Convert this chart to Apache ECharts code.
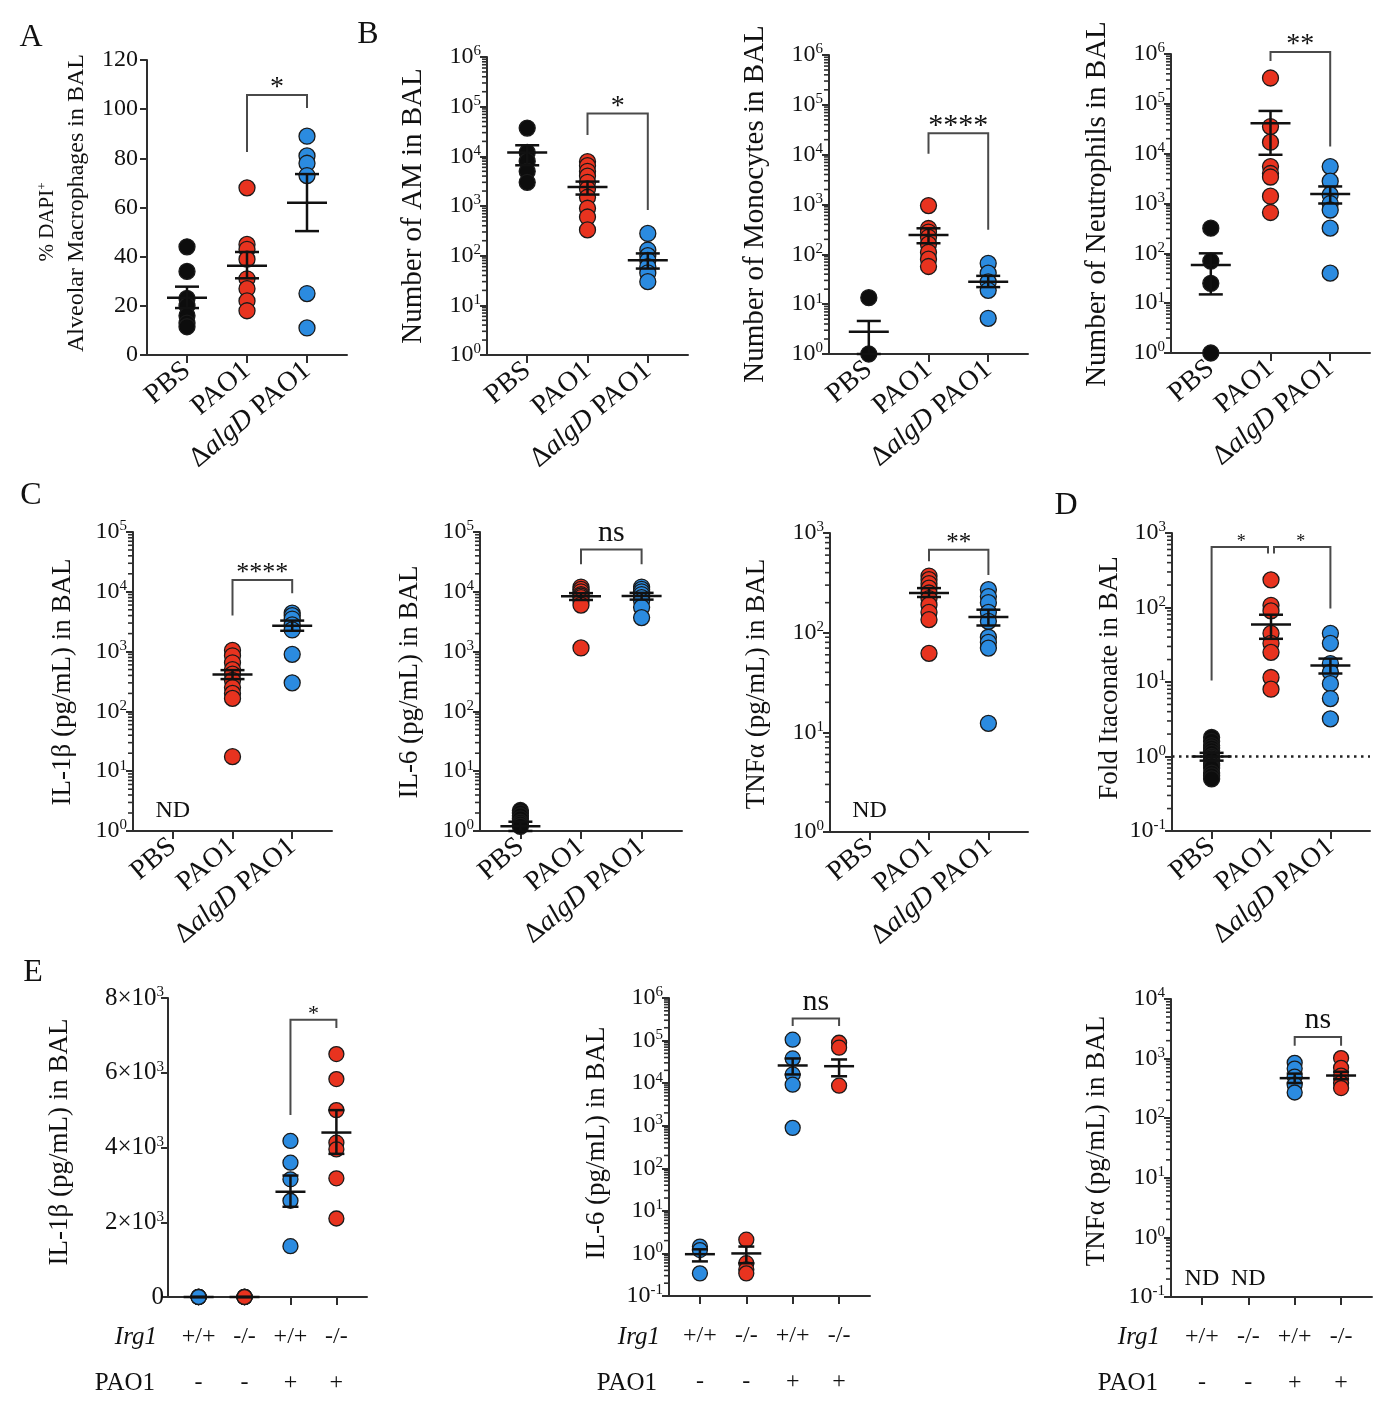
<!DOCTYPE html>
<html><head><meta charset="utf-8">
<script src="https://cdn.jsdelivr.net/npm/echarts@6.0.0/dist/echarts.min.js"></script>
<style>html,body{margin:0;padding:0;background:#fff}#c{width:1386px;height:1402px}</style>
</head><body><div id="c"></div>
<script>
// ---------------- DATA ----------------
const CAT_BAL = ['PBS', 'PAO1', 'ΔalgD PAO1'];
const E_IRG1 = ['+/+', '-/-', '+/+', '-/-'];
const E_PAO1 = ['-', '-', '+', '+'];

const A_PBS = [44, 34, 23, 20, 16, 13, 11.5];
const A_PAO1 = [68, 45, 43, 39, 31, 27, 22, 18];
const A_ALGD = [89, 81, 78, 73, 25, 11];
const A_MEAN = [23.3, 36.3, 61.9];
const A_LO = [19.1, 31.2, 50.4];
const A_HI = [27.8, 41.9, 73.6];
const A_BR = [[5, 8, 82.6, 105.8, 100.5, '*']];

const B1_PBS = [37000, 12000, 8000, 5000, 3000];
const B1_PAO1 = [7800, 6500, 5000, 4000, 3000, 2200, 1500, 900, 600, 330];
const B1_ALGD = [280, 130, 100, 80, 60, 45, 30];
const B1_MEAN = [12000, 2400, 81];
const B1_LO = [6600, 1700, 55];
const B1_HI = [16700, 3100, 111];
const B1_BR = [[5, 8, 27000, 73000, 830, '*']];

const B2_PBS = [13.5, 1];
const B2_PAO1 = [950, 330, 280, 220, 160, 110, 80, 57];
const B2_ALGD = [66, 42, 28, 19, 5.2];
const B2_MEAN = [2.8, 245, 28.3];
const B2_LO = [1, 167, 22];
const B2_HI = [4.6, 333, 37];
const B2_BR = [[5, 8, 10400, 27000, 310, '****']];

const B3_PBS = [320, 70, 25, 1];
const B3_PAO1 = [330000, 35000, 17000, 5500, 4000, 3400, 1400, 660];
const B3_ALGD = [5500, 2800, 1500, 1000, 740, 320, 40];
const B3_MEAN = [58, 41000, 1560];
const B3_LO = [15, 9500, 1000];
const B3_HI = [100, 72000, 2200];
const B3_BR = [[5, 8, 720000, 1100000, 14000, '**']];

const C1_PBS = [];
const C1_PAO1 = [1050, 850, 650, 500, 420, 330, 250, 200, 165, 17.5];
const C1_ALGD = [4400, 4000, 3500, 2800, 2300, 900, 300];
const C1_MEAN = [null, 415, 2700];
const C1_LO = [null, 347, 2230];
const C1_HI = [null, 490, 3300];
const C1_BR = [[5, 8, 4000, 15800, 9500, '****']];
const C1_ND = [[2, 2.2]];

const C2_PBS = [2.2, 2.0, 1.8, 1.6, 1.4, 1.3, 1.2];
const C2_PAO1 = [12000, 11000, 10000, 9000, 8500, 8000, 7000, 6000, 1150];
const C2_ALGD = [12000, 11000, 10000, 9000, 8000, 7000, 5500, 3700];
const C2_MEAN = [1.2, 8400, 8500];
const C2_LO = [1.0, 7300, 7400];
const C2_HI = [1.43, 9500, 9600];
const C2_BR = [[5, 8, 29000, 51000, 29000, 'ns']];

const C3_PBS = [];
const C3_PAO1 = [370, 340, 310, 280, 250, 220, 190, 160, 135, 62];
const C3_ALGD = [270, 230, 200, 160, 130, 90, 80, 70, 12.3];
const C3_MEAN = [null, 250, 144];
const C3_LO = [null, 228, 118];
const C3_HI = [null, 280, 170];
const C3_BR = [[5, 8, 520, 680, 380, '**']];
const C3_ND = [[2, 1.65]];

const D_PBS = [1.8, 1.6, 1.4, 1.3, 1.2, 1.1, 1.0, 0.95, 0.9, 0.8, 0.75, 0.7, 0.6, 0.55, 0.5];
const D_PAO1 = [235, 107, 90, 45, 33, 25, 11.5, 8];
const D_ALGD = [45, 33, 17.7, 13.5, 9.5, 6, 3.2];
const D_MEAN = [1.0, 59, 16.7];
const D_LO = [0.88, 38, 13];
const D_HI = [1.12, 80, 20.6];
const D_BR = [[2, 5, 10.5, 650, 530, '*'], [5, 8, 530, 650, 97, '*']];
const D_REF = 1;

const E1_G = [[0, 0, 0, 0, 0], [0, 0, 0, 0, 0], [4175, 3594, 3148, 2575, 1360], [6500, 5830, 5000, 4130, 3950, 3175, 2100]];
const E1_MEAN = [0, 0, 2816, 4400];
const E1_LO = [0, 0, 2414, 3830];
const E1_HI = [0, 0, 3250, 5000];
const E1_BR = [[8, 11, 4872, 7420, 7197, '*']];

const E2_G = [[1.45, 1.2, 0.34], [2.1, 0.59, 0.42, 0.34], [105000, 38000, 16000, 9200, 890], [89000, 68000, 8700]];
const E2_MEAN = [0.96, 1.0, 26000, 25000];
const E2_LO = [0.65, 0.59, 16000, 14500];
const E2_HI = [1.25, 1.45, 38000, 36000];
const E2_BR = [[8, 11, 220000, 330000, 220000, 'ns']];

const E3_G = [[], [], [850, 680, 500, 365, 270], [1020, 700, 520, 390, 320]];
const E3_MEAN = [null, null, 470, 520];
const E3_LO = [null, null, 390, 450];
const E3_HI = [null, null, 560, 600];
const E3_BR = [[8, 11, 1650, 2300, 1650, 'ns']];
const E3_ND = [[2, 0.2], [5, 0.2]];

// ---------------- STYLE / LAYOUT ----------------
const FONT = '"Liberation Serif", "Times New Roman", Times, serif';
const AX = '#2e2e2e';
const TXT = '#111';
const RED = '#e8331f', BLUE = '#2b8be0', BLACK = '#0d0d0d';
const ABC_COLORS = [BLACK, RED, BLUE];
const E_COLORS = [BLUE, RED, BLUE, RED];

const panels = [
  {box: [147, 60, 200, 295], n: 11, idx: [2, 5, 8], y: {type: 'value', min: 0, max: 120, interval: 20},
   groups: [A_PBS, A_PAO1, A_ALGD], colors: ABC_COLORS, mean: A_MEAN, lo: A_LO, hi: A_HI, br: A_BR, brFont: [28]},
  {box: [487, 57, 201, 298], n: 11, idx: [2, 5, 8], y: {type: 'log', min: 1, max: 1e6},
   groups: [B1_PBS, B1_PAO1, B1_ALGD], colors: ABC_COLORS, mean: B1_MEAN, lo: B1_LO, hi: B1_HI, br: B1_BR, brFont: [28]},
  {box: [829, 55, 199, 299], n: 11, idx: [2, 5, 8], y: {type: 'log', min: 1, max: 1e6},
   groups: [B2_PBS, B2_PAO1, B2_ALGD], colors: ABC_COLORS, mean: B2_MEAN, lo: B2_LO, hi: B2_HI, br: B2_BR, brFont: [30]},
  {box: [1171, 54, 199, 299], n: 11, idx: [2, 5, 8], y: {type: 'log', min: 1, max: 1e6},
   groups: [B3_PBS, B3_PAO1, B3_ALGD], colors: ABC_COLORS, mean: B3_MEAN, lo: B3_LO, hi: B3_HI, br: B3_BR, brFont: [28]},
  {box: [133, 532, 199, 299], n: 11, idx: [2, 5, 8], y: {type: 'log', min: 1, max: 1e5},
   groups: [C1_PBS, C1_PAO1, C1_ALGD], colors: ABC_COLORS, mean: C1_MEAN, lo: C1_LO, hi: C1_HI, br: C1_BR, brFont: [26], nd: C1_ND},
  {box: [480, 532, 202, 299], n: 11, idx: [2, 5, 8], y: {type: 'log', min: 1, max: 1e5},
   groups: [C2_PBS, C2_PAO1, C2_ALGD], colors: ABC_COLORS, mean: C2_MEAN, lo: C2_LO, hi: C2_HI, br: C2_BR, brFont: [30]},
  {box: [830, 533, 198, 299], n: 11, idx: [2, 5, 8], y: {type: 'log', min: 1, max: 1e3},
   groups: [C3_PBS, C3_PAO1, C3_ALGD], colors: ABC_COLORS, mean: C3_MEAN, lo: C3_LO, hi: C3_HI, br: C3_BR, brFont: [25], nd: C3_ND},
  {box: [1172, 533, 198, 298], n: 11, idx: [2, 5, 8], y: {type: 'log', min: 0.1, max: 1e3},
   groups: [D_PBS, D_PAO1, D_ALGD], colors: ABC_COLORS, mean: D_MEAN, lo: D_LO, hi: D_HI, br: D_BR, brFont: [18, 18], brDx: [[0, -3], [3, 0]], ref: D_REF},
  {box: [168, 998, 199, 299], n: 14, idx: [2, 5, 8, 11], y: {type: 'value', min: 0, max: 8000, interval: 2000}, E: true,
   groups: E1_G, colors: E_COLORS, mean: E1_MEAN, lo: E1_LO, hi: E1_HI, br: E1_BR, brFont: [22]},
  {box: [669, 998, 201, 298], n: 14, idx: [2, 5, 8, 11], y: {type: 'log', min: 0.1, max: 1e6}, E: true,
   groups: E2_G, colors: E_COLORS, mean: E2_MEAN, lo: E2_LO, hi: E2_HI, br: E2_BR, brFont: [30]},
  {box: [1171, 999, 201, 298], n: 14, idx: [2, 5, 8, 11], y: {type: 'log', min: 0.1, max: 1e4}, E: true,
   groups: E3_G, colors: E_COLORS, mean: E3_MEAN, lo: E3_LO, hi: E3_HI, br: E3_BR, brFont: [30], nd: E3_ND}
];

const TITLES = [
  {text: '{a|% DAPI}{s|+}', x: 47, y: 222, fs: 21},
  {text: '{a|Alveolar Macrophages in BAL}', x: 77, y: 203, fs: 24},
  {text: '{a|Number of AM in BAL}', x: 413, y: 206, fs: 29},
  {text: '{a|Number of Monocytes in BAL}', x: 755, y: 204, fs: 29},
  {text: '{a|Number of Neutrophils in BAL}', x: 1097, y: 204, fs: 29},
  {text: '{a|IL-1β (pg/mL) in BAL}', x: 63, y: 682, fs: 27},
  {text: '{a|IL-6 (pg/mL) in BAL}', x: 410, y: 682, fs: 27},
  {text: '{a|TNFα (pg/mL) in BAL}', x: 757, y: 684, fs: 27},
  {text: '{a|Fold Itaconate in BAL}', x: 1110, y: 678, fs: 27},
  {text: '{a|IL-1β (pg/mL) in BAL}', x: 60, y: 1142, fs: 27},
  {text: '{a|IL-6 (pg/mL) in BAL}', x: 597, y: 1143, fs: 27},
  {text: '{a|TNFα (pg/mL) in BAL}', x: 1097, y: 1141, fs: 27}
];
const LETTERS = [['A', 31, 38], ['B', 368, 35], ['C', 31, 496], ['D', 1066, 506], ['E', 33, 973]];
const E_ROWS = [[157, 660, 1160], [155, 657, 1158]];

// ---------------- BUILD ----------------
const option = {animation: false, backgroundColor: '#fff', grid: [], xAxis: [], yAxis: [], series: [], graphic: []};

function catLabel(k) {
  if (k === 2) return '{n|Δ}{i|algD}{n| PAO1}';
  return '{n|' + CAT_BAL[k] + '}';
}
function log10r(v) { return Math.round(Math.log10(v)); }

panels.forEach((p, gi) => {
  option.grid.push({left: p.box[0], top: p.box[1], width: p.box[2], height: p.box[3]});
  const catData = Array.from({length: p.n}, (_, i) => 'c' + i);
  const showAt = (i) => p.idx.includes(i);
  const xa = {
    type: 'category', gridIndex: gi, data: catData, boundaryGap: false,
    axisLine: {show: true, onZero: false, lineStyle: {color: AX, width: 2}},
    axisTick: {show: true, length: 8, interval: showAt, lineStyle: {color: AX, width: 2}},
    splitLine: {show: false}
  };
  if (p.E) {
    xa.axisLabel = {interval: showAt, margin: 17,
      formatter: (v, i) => { const k = p.idx.indexOf(i); return '{a|' + E_IRG1[k] + '}\n{a|' + E_PAO1[k] + '}'; },
      rich: {a: {fontFamily: FONT, fontSize: 24, lineHeight: 46, color: TXT}}};
  } else {
    xa.axisLabel = {interval: showAt, rotate: 40, margin: 12,
      formatter: (v, i) => catLabel(p.idx.indexOf(i)),
      rich: {n: {fontFamily: FONT, fontSize: 28, color: TXT}, i: {fontFamily: FONT, fontSize: 28, fontStyle: 'italic', color: TXT}}};
  }
  option.xAxis.push(xa);

  const y = p.y;
  const ya = {gridIndex: gi, type: y.type, min: y.min, max: y.max,
    axisLine: {show: true, onZero: false, lineStyle: {color: AX, width: 2}},
    axisTick: {show: true, length: 7, lineStyle: {color: AX, width: 2}},
    splitLine: {show: false}};
  if (y.type === 'log') {
    ya.logBase = 10;
    ya.splitNumber = log10r(y.max / y.min);
    ya.axisLabel = {margin: 6, formatter: (v) => '{b|10}{s|' + log10r(v) + '}',
      rich: {b: {fontFamily: FONT, fontSize: 24, lineHeight: 26, color: TXT}, s: {fontFamily: FONT, fontSize: 15, verticalAlign: 'top', color: TXT}}};
  } else {
    ya.interval = y.interval;
    if (p.E) {
      ya.axisLabel = {margin: 4, formatter: (v) => v === 0 ? '{b|0}' : '{b|' + (v / 1000) + '×10}{s|3}',
        rich: {b: {fontFamily: FONT, fontSize: 25, lineHeight: 26, color: TXT}, s: {fontFamily: FONT, fontSize: 15, verticalAlign: 'top', color: TXT}}};
    } else {
      ya.axisLabel = {margin: 9, fontFamily: FONT, fontSize: 24, color: TXT};
    }
  }
  option.yAxis.push(ya);

  const symSize = p.E ? 15 : 16;
  p.groups.forEach((vals, g) => {
    const s = {type: 'scatter', xAxisIndex: gi, yAxisIndex: gi, clip: false, z: 3,
      symbol: 'circle', symbolSize: symSize,
      data: vals.map(v => [p.idx[g], v]),
      itemStyle: {color: p.colors[g], borderColor: '#1a1a1a', borderWidth: 1.3, opacity: 1}};
    if (p.ref !== undefined && g === 0) {
      s.markLine = {silent: true, symbol: 'none', label: {show: false}, z: 2,
        lineStyle: {color: '#222', width: 2.5, type: [2.5, 4.5]}, data: [{yAxis: p.ref}]};
    }
    option.series.push(s);
  });

  const mw = p.E ? 15 : 20, cw = p.E ? 8 : 12;
  const eb = [];
  p.mean.forEach((m, g) => { if (m !== null) eb.push([p.idx[g], m, p.lo[g], p.hi[g]]); });
  option.series.push({type: 'custom', xAxisIndex: gi, yAxisIndex: gi, z: 6, silent: true, data: eb,
    renderItem: (params, api) => {
      const x = api.value(0);
      const pm = api.coord([x, api.value(1)]);
      const pl = api.coord([x, api.value(2)]);
      const ph = api.coord([x, api.value(3)]);
      const st = {stroke: '#111', lineWidth: 2.5};
      return {type: 'group', children: [
        {type: 'line', shape: {x1: pm[0] - mw, y1: pm[1], x2: pm[0] + mw, y2: pm[1]}, style: st},
        {type: 'line', shape: {x1: pl[0], y1: pl[1], x2: ph[0], y2: ph[1]}, style: st},
        {type: 'line', shape: {x1: ph[0] - cw, y1: ph[1], x2: ph[0] + cw, y2: ph[1]}, style: st},
        {type: 'line', shape: {x1: pl[0] - cw, y1: pl[1], x2: pl[0] + cw, y2: pl[1]}, style: st}
      ]};
    }});

  option.series.push({type: 'custom', xAxisIndex: gi, yAxisIndex: gi, z: 4, silent: true, clip: false,
    data: p.br.map(b => [b[0], b[2]]),
    renderItem: (params, api) => {
      const b = p.br[params.dataIndex];
      const dx = p.brDx ? p.brDx[params.dataIndex] : [0, 0];
      const a1 = api.coord([b[0], b[2]]), t1 = api.coord([b[0], b[3]]);
      const t2 = api.coord([b[1], b[3]]), a2 = api.coord([b[1], b[4]]);
      const fs = p.brFont[params.dataIndex];
      const isStar = b[5].indexOf('*') >= 0;
      return {type: 'group', children: [
        {type: 'polyline', shape: {points: [[a1[0] + dx[0], a1[1]], [t1[0] + dx[0], t1[1]], [t2[0] + dx[1], t2[1]], [a2[0] + dx[1], a2[1]]]},
         style: {stroke: '#4a4a4a', lineWidth: 2, fill: null}},
        {type: 'text', x: (t1[0] + t2[0]) / 2, y: t1[1] - (isStar ? fs * 0.25 : fs * 0.55),
         style: {text: b[5], fontFamily: FONT, fontSize: fs, fill: TXT, align: 'center', verticalAlign: 'middle'}}
      ]};
    }});

  if (p.nd) {
    option.series.push({type: 'custom', xAxisIndex: gi, yAxisIndex: gi, z: 4, silent: true, data: p.nd,
      renderItem: (params, api) => {
        const pt = api.coord([api.value(0), api.value(1)]);
        return {type: 'text', x: pt[0], y: pt[1], style: {text: 'ND', fontFamily: FONT, fontSize: 24, fill: TXT, align: 'center', verticalAlign: 'middle'}};
      }});
  }

  // minor log ticks: 2..9 x 10^k, positioned via the y scale
  if (y.type === 'log') {
    const mt = [];
    for (let e = log10r(y.min); e < log10r(y.max); e++) for (let k = 2; k <= 9; k++) mt.push(k * Math.pow(10, e));
    option.series.push({type: 'custom', xAxisIndex: gi, yAxisIndex: gi, z: 10, silent: true, clip: false,
      data: [[p.idx[0], y.min]],
      renderItem: (params, api) => {
        const children = mt.map(v => {
          const c = api.coord([p.idx[0], v]);
          return {type: 'rect', shape: {x: p.box[0] - 5, y: c[1] - 0.8, width: 5, height: 1.6}, style: {fill: AX}};
        });
        return {type: 'group', children: children};
      }});
  }
});

TITLES.forEach(t => {
  option.graphic.push({type: 'text', x: t.x, y: t.y, rotation: Math.PI / 2, silent: true,
    style: {text: t.text, align: 'center', verticalAlign: 'middle', fill: TXT,
      rich: {a: {fontFamily: FONT, fontSize: t.fs, fill: TXT}, s: {fontFamily: FONT, fontSize: Math.round(t.fs * 0.6), fill: TXT, verticalAlign: 'top'}}}});
});
LETTERS.forEach(l => {
  option.graphic.push({type: 'text', x: l[1], y: l[2], silent: true,
    style: {text: l[0], fontFamily: FONT, fontSize: 32, fill: TXT, align: 'center', verticalAlign: 'middle'}});
});
E_ROWS[0].forEach(x => option.graphic.push({type: 'text', x: x, y: 1337, silent: true,
  style: {text: 'Irg1', fontFamily: FONT, fontSize: 25, fontStyle: 'italic', fill: TXT, align: 'right', verticalAlign: 'middle'}}));
E_ROWS[1].forEach(x => option.graphic.push({type: 'text', x: x, y: 1383, silent: true,
  style: {text: 'PAO1', fontFamily: FONT, fontSize: 25, fill: TXT, align: 'right', verticalAlign: 'middle'}}));

const chart = echarts.init(document.getElementById('c'), null, {renderer: 'canvas'});
chart.setOption(option);
</script></body></html>
